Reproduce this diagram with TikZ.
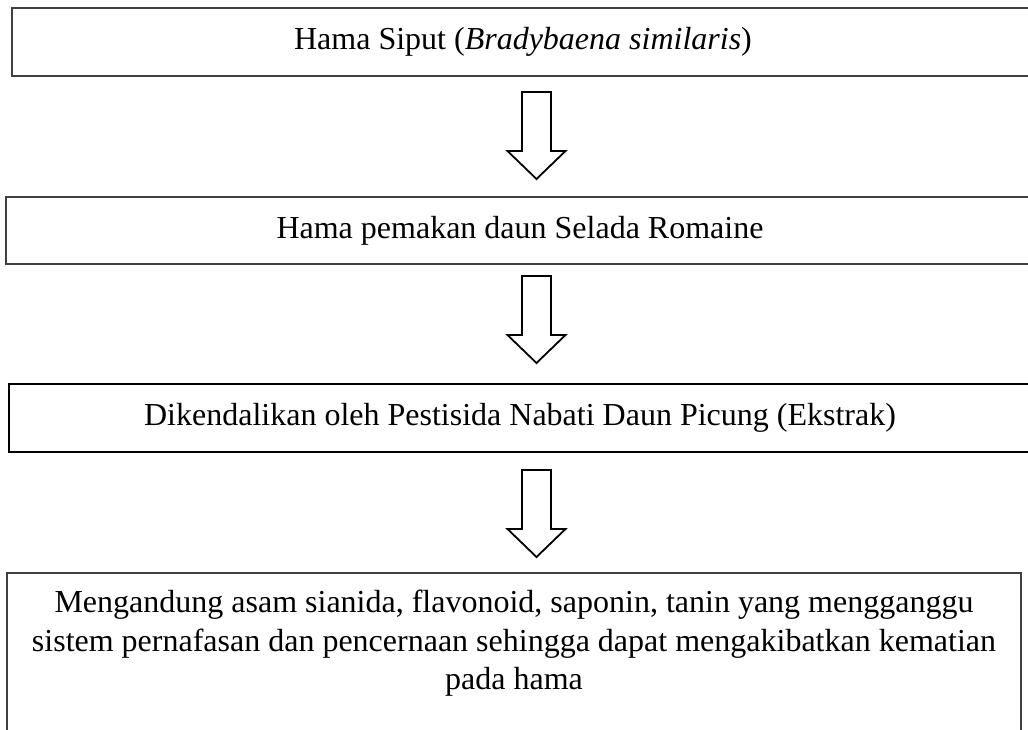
\documentclass[tikz,border=0pt]{standalone}
\usepackage{fontspec}
\setmainfont{Liberation Serif}
\begin{document}
\begin{tikzpicture}[x=1pt,y=-1pt,
  box/.style={draw=black!75, line width=1.6pt, rectangle, inner sep=0pt,
    font=\fontsize{32}{39}\selectfont, align=center},
  downarrow/.pic={\draw[line width=1.8pt, fill=white]
    (-14.5,0) -- (14.5,0) -- (14.5,59) -- (29,59) -- (0,87) -- (-29,59) -- (-14.5,59) -- cycle;}]
\useasboundingbox (0,0) rectangle (1028,729);
\clip (0,0) rectangle (1028,729);
\node[box, minimum width=1022pt, minimum height=68pt] (b1) at (523,42) {Hama Siput (\textit{Bradybaena similaris})};
\node[box, minimum width=1028pt, minimum height=67pt] (b2) at (520,230.5) {Hama pemakan daun Selada Romaine};
\node[box, draw=black, minimum width=1022pt, minimum height=68pt] (b3) at (520,418) {Dikendalikan oleh Pestisida Nabati Daun Picung (Ekstrak)};
\node[box, anchor=north west, minimum width=1014pt, minimum height=190pt] (b4) at (6,572) {};
\node[font=\fontsize{32}{38.5}\selectfont, align=center, anchor=north, inner sep=0pt] (t4) at (514,590)
  {Mengandung asam sianida, flavonoid, saponin, tanin yang mengganggu\\
   sistem pernafasan dan pencernaan sehingga dapat mengakibatkan kematian\\
   pada hama};
\coordinate (a1) at (536.5,92);
\coordinate (a2) at (536.5,276);
\coordinate (a3) at (536.5,470);
\pic at (a1) {downarrow};
\pic at (a2) {downarrow};
\pic at (a3) {downarrow};
\end{tikzpicture}
\end{document}
